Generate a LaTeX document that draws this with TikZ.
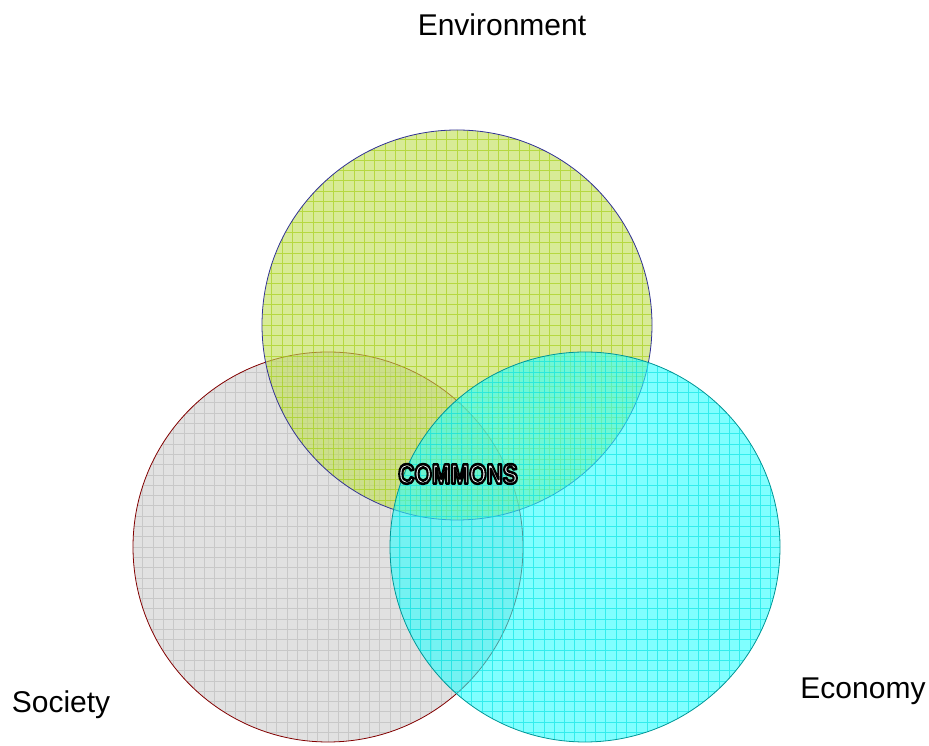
\documentclass[tikz,border=0pt]{standalone}
\usepackage{fontspec}
\setmainfont{Liberation Sans}
\usetikzlibrary{positioning}
\definecolor{envfill}{RGB}{190,222,80}
\definecolor{envgrid}{RGB}{160,205,10}
\definecolor{envline}{RGB}{50,50,150}
\definecolor{ecofill}{RGB}{43,255,255}
\definecolor{ecogrid}{RGB}{0,225,225}
\definecolor{ecoline}{RGB}{0,150,150}
\definecolor{socfill}{RGB}{205,205,205}
\definecolor{socgrid}{RGB}{185,185,185}
\definecolor{socline}{RGB}{130,0,0}
\tikzstyle{sphere} = [circle, minimum size=390pt, inner sep=0pt, fill opacity=0.6, line width=0.8pt]
\tikzstyle{gridded} = [path picture={\draw[#1, draw opacity=0.6, line width=0.6pt, step=10.3pt]
    (path picture bounding box.south west) grid (path picture bounding box.north east);}]
\tikzstyle{label} = [font=\fontsize{30}{36}\selectfont]
\tikzstyle{outlined} = [font=\fontsize{28}{32}\selectfont\bfseries, xscale=0.8]
% fill-and-stroke text: white inside, black edge
\newcommand{\hollowtext}[1]{\special{pdf:literal direct 2 Tr 2.6 w 1 j 1 1 1 rg 0 0 0 RG}#1\special{pdf:literal direct 0 Tr 0 j}}

\begin{document}
\begin{tikzpicture}[x=1pt, y=1pt]
      \useasboundingbox (0,0) rectangle (929,746);
      \node [sphere, draw=socline, fill=socfill, gridded=socgrid] (society) at (328,199) {};
      \node [sphere, draw=envline, fill=envfill, gridded=envgrid] (environment) at (457,421) {};
      \node [sphere, draw=ecoline, fill=ecofill, gridded=ecogrid] (economy) at (585,199) {};
      % labels
      \node [label] (envlabel) at (502,721) {Environment};
      \node [label] (soclabel) at (61,41) {Society};
      \node [label] (ecolabel) at (863,55) {Economy};
      \node [outlined] (commons) at (458,272) {\hollowtext{COMMONS}};
\end{tikzpicture}
\end{document}
